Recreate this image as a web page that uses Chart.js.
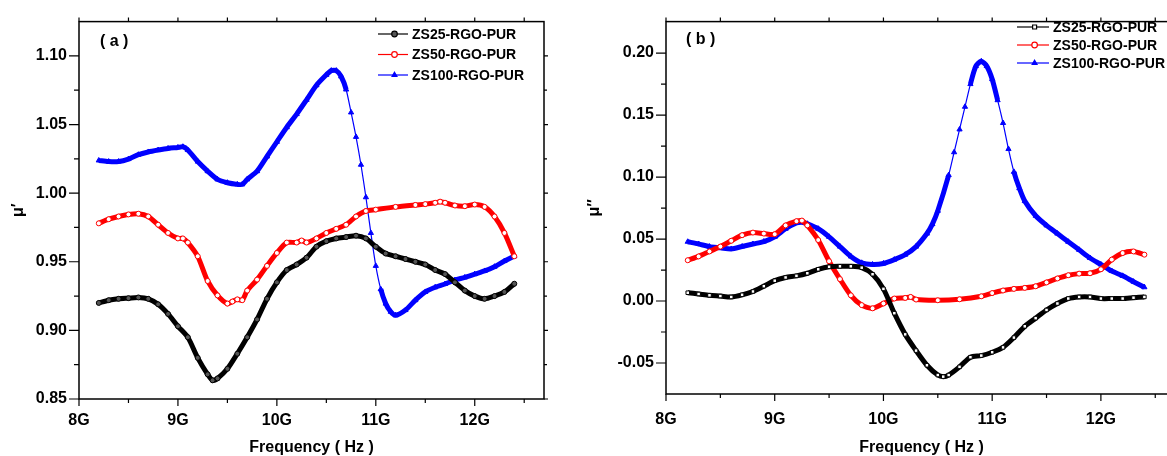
<!DOCTYPE html>
<html>
<head>
<meta charset="utf-8">
<script src="https://cdn.jsdelivr.net/npm/chart.js@4.4.1/dist/chart.umd.min.js"></script>
<style>
  html, body { margin: 0; padding: 0; background: #fff; overflow: hidden; width: 1167px; height: 456px; }
  #wrapA { position: absolute; left: 0; top: 0; }
  #wrapB { position: absolute; left: 580px; top: 0; }
</style>
</head>
<body>
<div id="wrapA"><canvas id="chartA" width="580" height="456"></canvas></div>
<div id="wrapB"><canvas id="chartB" width="620" height="456"></canvas></div>
<script>
// ---- data (frequency in GHz) ----
const seriesNames = ['ZS25-RGO-PUR', 'ZS50-RGO-PUR', 'ZS100-RGO-PUR'];

// (a) real part mu'
const freqA25 = [8.2, 8.3, 8.4, 8.5, 8.6, 8.7, 8.8, 8.9, 9.0, 9.1, 9.2, 9.3, 9.35, 9.4, 9.5, 9.6, 9.7, 9.8, 9.9, 10.0, 10.1, 10.2, 10.3, 10.4, 10.5, 10.6, 10.7, 10.8, 10.9, 11.0, 11.1, 11.2, 11.3, 11.4, 11.5, 11.6, 11.7, 11.8, 11.9, 12.0, 12.1, 12.2, 12.3, 12.4];
const muA25 = [0.920, 0.922, 0.923, 0.9235, 0.924, 0.923, 0.919, 0.912, 0.903, 0.895, 0.880, 0.868, 0.8636, 0.865, 0.872, 0.883, 0.895, 0.908, 0.923, 0.935, 0.944, 0.948, 0.953, 0.961, 0.965, 0.967, 0.968, 0.969, 0.967, 0.961, 0.956, 0.954, 0.952, 0.950, 0.948, 0.944, 0.941, 0.935, 0.929, 0.925, 0.923, 0.925, 0.928, 0.934];

const freqA50 = [8.2, 8.3, 8.4, 8.5, 8.6, 8.7, 8.8, 8.9, 9.0, 9.05, 9.1, 9.2, 9.3, 9.4, 9.5, 9.55, 9.6, 9.65, 9.7, 9.8, 9.9, 10.0, 10.1, 10.2, 10.25, 10.3, 10.4, 10.5, 10.6, 10.7, 10.8, 10.9, 11.0, 11.2, 11.4, 11.5, 11.6, 11.65, 11.7, 11.8, 11.9, 12.0, 12.1, 12.2, 12.3, 12.4];
const muA50 = [0.978, 0.981, 0.983, 0.9845, 0.985, 0.983, 0.977, 0.971, 0.967, 0.967, 0.964, 0.954, 0.936, 0.9255, 0.9195, 0.921, 0.9226, 0.922, 0.929, 0.937, 0.947, 0.9564, 0.964, 0.964, 0.9655, 0.964, 0.967, 0.971, 0.974, 0.977, 0.983, 0.987, 0.988, 0.990, 0.9914, 0.992, 0.993, 0.9938, 0.993, 0.991, 0.9905, 0.9917, 0.990, 0.983, 0.971, 0.954];

const freqA100 = [8.2, 8.3, 8.4, 8.5, 8.6, 8.7, 8.8, 8.9, 9.0, 9.05, 9.1, 9.2, 9.3, 9.4, 9.5, 9.6, 9.65, 9.7, 9.8, 9.9, 10.0, 10.1, 10.2, 10.3, 10.4, 10.5, 10.55, 10.6, 10.65, 10.7, 10.75, 10.8, 10.85, 10.9, 10.95, 11.0, 11.05, 11.1, 11.15, 11.2, 11.3, 11.4, 11.5, 11.6, 11.7, 11.8, 11.9, 12.0, 12.1, 12.2, 12.3, 12.4];
const muA100 = [1.0238, 1.023, 1.023, 1.0248, 1.028, 1.030, 1.0314, 1.0326, 1.0333, 1.0338, 1.0314, 1.023, 1.016, 1.010, 1.0076, 1.0064, 1.0064, 1.010, 1.016, 1.0267, 1.0374, 1.048, 1.0576, 1.068, 1.0786, 1.0862, 1.0893, 1.0893, 1.085, 1.0755, 1.0588, 1.041, 1.0207, 0.997, 0.971, 0.947, 0.930, 0.9195, 0.9136, 0.911, 0.9148, 0.922, 0.928, 0.9314, 0.9338, 0.9367, 0.9386, 0.941, 0.9433, 0.9464, 0.9505, 0.954];

// (b) imaginary part mu''
const freqB25 = [8.2, 8.3, 8.4, 8.5, 8.6, 8.7, 8.8, 8.9, 9.0, 9.1, 9.2, 9.3, 9.4, 9.5, 9.6, 9.7, 9.8, 9.9, 10.0, 10.1, 10.2, 10.3, 10.4, 10.5, 10.55, 10.6, 10.7, 10.8, 10.9, 11.0, 11.1, 11.2, 11.3, 11.4, 11.5, 11.6, 11.7, 11.8, 11.9, 12.0, 12.1, 12.2, 12.3, 12.4];
const muB25 = [0.0067, 0.0057, 0.0046, 0.004, 0.0033, 0.005, 0.0077, 0.012, 0.0164, 0.019, 0.0203, 0.0224, 0.0256, 0.0276, 0.028, 0.028, 0.0269, 0.0216, 0.0098, -0.0098, -0.0269, -0.040, -0.0518, -0.0597, -0.061, -0.0597, -0.0531, -0.0453, -0.044, -0.0413, -0.0374, -0.0295, -0.0204, -0.0138, -0.0072, -0.002, 0.002, 0.0033, 0.0033, 0.002, 0.002, 0.002, 0.0027, 0.0033];

const freqB50 = [8.2, 8.3, 8.4, 8.5, 8.6, 8.7, 8.8, 8.9, 9.0, 9.1, 9.2, 9.25, 9.3, 9.4, 9.5, 9.6, 9.7, 9.8, 9.9, 10.0, 10.1, 10.2, 10.25, 10.3, 10.5, 10.7, 10.9, 11.0, 11.1, 11.2, 11.3, 11.4, 11.5, 11.6, 11.7, 11.8, 11.9, 12.0, 12.1, 12.2, 12.3, 12.4];
const muB50 = [0.0329, 0.036, 0.040, 0.0439, 0.0486, 0.0531, 0.0552, 0.0544, 0.0539, 0.061, 0.0644, 0.0649, 0.061, 0.0492, 0.0321, 0.0177, 0.0046, -0.0033, -0.0059, -0.002, 0.002, 0.0025, 0.0033, 0.0012, 0.0006, 0.0014, 0.0038, 0.0064, 0.0085, 0.0098, 0.0106, 0.0119, 0.015, 0.0182, 0.0208, 0.0221, 0.0224, 0.0256, 0.0334, 0.0387, 0.040, 0.0374];

const freqB100 = [8.2, 8.3, 8.4, 8.5, 8.6, 8.7, 8.8, 8.9, 9.0, 9.1, 9.2, 9.25, 9.3, 9.4, 9.5, 9.6, 9.7, 9.8, 9.9, 10.0, 10.1, 10.2, 10.3, 10.4, 10.45, 10.5, 10.6, 10.65, 10.7, 10.75, 10.8, 10.85, 10.9, 10.95, 11.0, 11.05, 11.1, 11.15, 11.2, 11.25, 11.3, 11.4, 11.5, 11.6, 11.7, 11.8, 11.9, 12.0, 12.1, 12.2, 12.3, 12.4];
const muB100 = [0.0478, 0.046, 0.0439, 0.043, 0.042, 0.044, 0.046, 0.048, 0.0518, 0.0583, 0.063, 0.0636, 0.0623, 0.0583, 0.0518, 0.0439, 0.036, 0.0308, 0.0295, 0.0303, 0.0334, 0.0374, 0.0439, 0.0544, 0.062, 0.0728, 0.1016, 0.12, 0.1384, 0.1567, 0.175, 0.1895, 0.1934, 0.1895, 0.179, 0.162, 0.1436, 0.1226, 0.1042, 0.091, 0.0806, 0.0688, 0.061, 0.0544, 0.0478, 0.0413, 0.0347, 0.0295, 0.0242, 0.0203, 0.0156, 0.0111];

// ---- tick values ----
const freqTicks = [8, 9, 10, 11, 12];
const freqMinor = [8.5, 9.5, 10.5, 11.5, 12.5];
const yTicksA = [0.85, 0.90, 0.95, 1.00, 1.05, 1.10];
const yMinorA = [0.875, 0.925, 0.975, 1.025, 1.075];
const yTicksB = [-0.05, 0.00, 0.05, 0.10, 0.15, 0.20];
const yMinorB = [-0.025, 0.025, 0.075, 0.125, 0.175];

const FONT = "'Liberation Sans', Arial, sans-serif";
const colors = ['#000000', '#ff0000', '#0000ff'];

function pts(xs, ys) {
    return xs.map((x, i) => ({ x: x, y: ys[i] }));
}

function makeSet(label, xs, ys, color, style, fill) {
    return {
        label: label,
        data: pts(xs, ys),
        borderColor: color,
        backgroundColor: color,
        borderWidth: 5,
        tension: 0.25,
        pointStyle: style,
        pointRadius: style === 'triangle' ? 3 : 2.5,
        pointBorderWidth: 1,
        pointBorderColor: color,
        pointBackgroundColor: fill,
        segment: {
            // very steep parts: single markers on a thin line, like the original
            borderWidth: c => Math.abs(c.p1.y - c.p0.y) > 4 * Math.abs(c.p1.x - c.p0.x) ? 1.2 : 5
        }
    };
}

// box around the plot with ticks on all four sides
const framePlugin = {
    id: 'frame',
    afterDraw(chart, args, opts) {
        const { ctx, chartArea: a } = chart;
        const xs = chart.scales.x, ys = chart.scales.y;
        ctx.save();
        ctx.strokeStyle = '#000';
        ctx.lineWidth = 1.5;
        ctx.strokeRect(a.left, a.top, a.right - a.left, a.bottom - a.top);
        ctx.lineWidth = 1.2;
        ctx.beginPath();
        freqTicks.forEach(v => {
            const px = xs.getPixelForValue(v);
            ctx.moveTo(px, a.bottom); ctx.lineTo(px, a.bottom + 7);
            ctx.moveTo(px, a.top); ctx.lineTo(px, a.top - 4);
        });
        freqMinor.forEach(v => {
            const px = xs.getPixelForValue(v);
            ctx.moveTo(px, a.bottom); ctx.lineTo(px, a.bottom + 4);
            ctx.moveTo(px, a.top); ctx.lineTo(px, a.top - 4);
        });
        opts.major.forEach(v => {
            const py = ys.getPixelForValue(v);
            ctx.moveTo(a.left, py); ctx.lineTo(a.left - 10, py);
            ctx.moveTo(a.right, py); ctx.lineTo(a.right + 4, py);
        });
        opts.minor.forEach(v => {
            const py = ys.getPixelForValue(v);
            ctx.moveTo(a.left, py); ctx.lineTo(a.left - 5, py);
            ctx.moveTo(a.right, py); ctx.lineTo(a.right + 3, py);
        });
        ctx.stroke();
        // panel tag
        ctx.fillStyle = '#000';
        ctx.font = 'bold 16px ' + FONT;
        ctx.textBaseline = 'middle';
        ctx.fillText(opts.tag, opts.tagX, opts.tagY);
        ctx.restore();
    }
};

// small legend drawn from the datasets
const legendPlugin = {
    id: 'miniLegend',
    afterDraw(chart, args, opts) {
        const ctx = chart.ctx;
        ctx.save();
        chart.data.datasets.forEach((ds, i) => {
            const y = opts.y + i * opts.dy;
            ctx.strokeStyle = ds.borderColor;
            ctx.lineWidth = 1.2;
            ctx.beginPath();
            ctx.moveTo(opts.x, y);
            ctx.lineTo(opts.x + opts.len, y);
            ctx.stroke();
            ctx.fillStyle = ds.pointBackgroundColor;
            Chart.helpers.drawPoint(ctx, {
                pointStyle: ds.pointStyle, radius: 2.8, rotation: 0, borderWidth: 1
            }, opts.x + opts.len * 0.55, y);
            ctx.fillStyle = '#000';
            ctx.font = 'bold ' + opts.size + 'px ' + FONT;
            ctx.textBaseline = 'middle';
            ctx.fillText(ds.label, opts.x + opts.len + 4, y + 1);
        });
        ctx.restore();
    }
};

function makeChart(id, cfg) {
    return new Chart(document.getElementById(id), {
        type: 'line',
        data: { datasets: cfg.datasets },
        options: {
            responsive: false,
            animation: false,
            layout: { padding: { top: cfg.padTop, right: cfg.padRight, left: 0, bottom: 0 } },
            plugins: {
                legend: { display: false },
                tooltip: { enabled: false },
                frame: { major: cfg.yTicks, minor: cfg.yMinor, tag: cfg.tag, tagX: cfg.tagX, tagY: cfg.tagY },
                miniLegend: cfg.legend
            },
            scales: {
                x: {
                    type: 'linear', min: 8, max: 12.7,
                    grid: { display: false, drawTicks: false },
                    border: { display: false },
                    afterBuildTicks: s => { s.ticks = freqTicks.map(v => ({ value: v })); },
                    afterFit: s => { s.height = cfg.xHeight; },
                    ticks: {
                        padding: cfg.xPad, color: '#000', autoSkip: false, maxRotation: 0,
                        font: { family: FONT, size: 16, weight: 'bold' },
                        callback: v => v + 'G'
                    },
                    title: {
                        display: true, text: 'Frequency ( Hz )', color: '#000',
                        font: { family: FONT, size: 16, weight: 'bold', lineHeight: 1 },
                        padding: { top: 0, bottom: 0 }
                    }
                },
                y: {
                    type: 'linear', min: cfg.yMin, max: cfg.yMax,
                    grid: { display: false, drawTicks: false },
                    border: { display: false },
                    afterBuildTicks: s => { s.ticks = cfg.yTicks.map(v => ({ value: v })); },
                    afterFit: s => { s.width = cfg.yWidth; },
                    ticks: {
                        padding: 12, color: '#000',
                        font: { family: FONT, size: 16, weight: 'bold' },
                        callback: v => v.toFixed(2)
                    },
                    title: {
                        display: true, text: cfg.yTitle, color: '#000',
                        font: { family: FONT, size: 16, weight: 'bold', lineHeight: 1 },
                        padding: { top: cfg.yTitlePad, bottom: 0 }
                    }
                }
            }
        },
        plugins: [framePlugin, legendPlugin]
    });
}

makeChart('chartA', {
    datasets: [
        makeSet(seriesNames[0], freqA25, muA25, colors[0], 'circle', '#555'),
        makeSet(seriesNames[1], freqA50, muA50, colors[1], 'circle', '#fff'),
        makeSet(seriesNames[2], freqA100, muA100, colors[2], 'triangle', '#0000ff')
    ],
    yMin: 0.85, yMax: 1.125, yTicks: yTicksA, yMinor: yMinorA,
    yTitle: 'μ′', yTitlePad: 11, yWidth: 79,
    padTop: 14, padRight: 36, xHeight: 57, xPad: 12,
    tag: '( a )', tagX: 100, tagY: 42,
    legend: { x: 378, y: 34, dy: 20.5, len: 30, size: 14 }
});

makeChart('chartB', {
    datasets: [
        makeSet(seriesNames[0], freqB25, muB25, colors[0], 'rect', '#fff'),
        makeSet(seriesNames[1], freqB50, muB50, colors[1], 'circle', '#fff'),
        makeSet(seriesNames[2], freqB100, muB100, colors[2], 'triangle', '#0000ff')
    ],
    yMin: -0.075, yMax: 0.2254, yTicks: yTicksB, yMinor: yMinorB,
    yTitle: 'μ″', yTitlePad: 7, yWidth: 86,
    padTop: 13, padRight: 23, xHeight: 62, xPad: 16,
    tag: '( b )', tagX: 106, tagY: 40,
    legend: { x: 437, y: 27, dy: 18, len: 32, size: 14 }
});
</script>
</body>
</html>
